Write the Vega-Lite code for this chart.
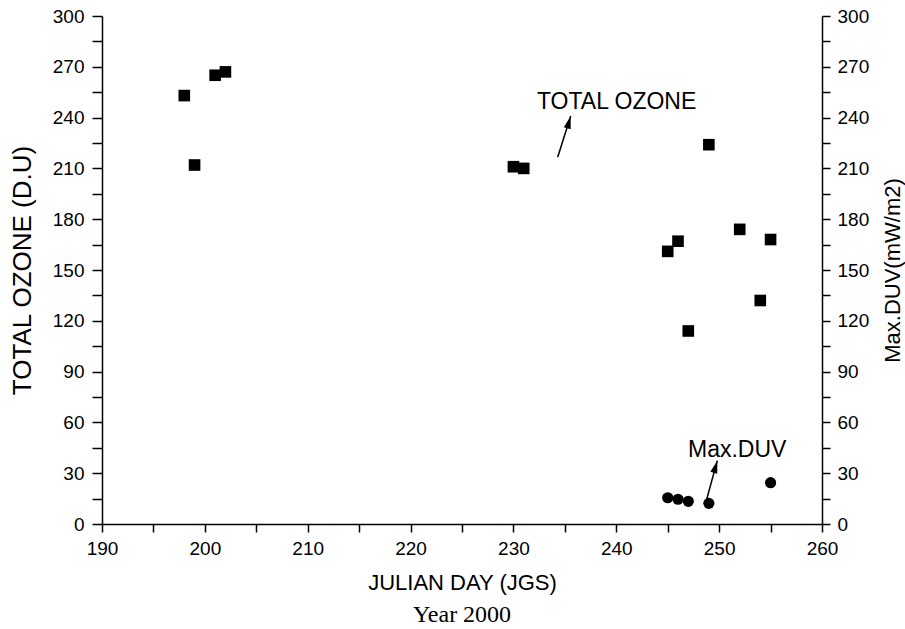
{
  "$schema": "https://vega.github.io/schema/vega-lite/v6.json",
  "width": 720,
  "height": 508,
  "autosize": {"type": "none"},
  "padding": {"left": 102, "top": 16, "right": 83, "bottom": 105},
  "background": "white",
  "config": {
    "font": "Liberation Sans",
    "view": {"stroke": null},
    "axis": {"grid": false, "domainColor": "black", "domainWidth": 1.5, "tickColor": "black", "tickWidth": 1.5, "labelColor": "black", "titleColor": "black", "titleFontWeight": "normal", "labelFlush": false, "labelOverlap": false}
  },
  "title": {"text": "Year 2000", "orient": "bottom", "font": "Liberation Serif", "fontSize": 24, "fontWeight": "normal", "color": "black", "offset": 10},
  "datasets": {
    "ozone": [
      {"day": 198, "ozone": 253}, {"day": 199, "ozone": 212}, {"day": 201, "ozone": 265}, {"day": 202, "ozone": 267},
      {"day": 230, "ozone": 211}, {"day": 231, "ozone": 210}, {"day": 245, "ozone": 161}, {"day": 246, "ozone": 167},
      {"day": 247, "ozone": 114}, {"day": 249, "ozone": 224}, {"day": 252, "ozone": 174}, {"day": 254, "ozone": 132},
      {"day": 255, "ozone": 168}
    ],
    "duv": [
      {"day": 245, "duv": 15.5}, {"day": 246, "duv": 14.6}, {"day": 247, "duv": 13.4}, {"day": 249, "duv": 12.2}, {"day": 255, "duv": 24.4}
    ],
    "arrows": [
      {"day": 234.3, "v": 216.6, "day2": 235.57, "v2": 240.9},
      {"day": 248.79, "v": 14.6, "day2": 249.82, "v2": 37.4}
    ],
    "heads": [
      {"day": 235.57, "v": 240.9},
      {"day": 249.82, "v": 37.4}
    ],
    "labels": [
      {"day": 232.29, "v": 245.1, "label": "TOTAL OZONE"},
      {"day": 246.97, "v": 39.4, "label": "Max.DUV"}
    ]
  },
  "encoding": {
    "x": {
      "field": "day", "type": "quantitative",
      "scale": {"domain": [190, 260], "nice": false, "zero": false},
      "axis": {
        "values": [190,195,200,205,210,215,220,225,230,235,240,245,250,255,260],
        "labelExpr": "datum.value % 10 === 0 ? datum.label : ''",
        "tickSize": 8, "labelPadding": 7, "labelFontSize": 19,
        "title": "JULIAN DAY (JGS)", "titleFontSize": 22, "titlePadding": 14
      }
    }
  },
  "layer": [
    {
      "data": {"name": "ozone"},
      "mark": {"type": "point", "shape": "square", "filled": true, "size": 135, "color": "black", "opacity": 1},
      "encoding": {
        "y": {
          "field": "ozone", "type": "quantitative",
          "scale": {"domain": [0, 300], "nice": false},
          "axis": {
            "orient": "left",
            "values": [0,15,30,45,60,75,90,105,120,135,150,165,180,195,210,225,240,255,270,285,300],
            "labelExpr": "datum.value % 30 === 0 ? datum.label : ''",
            "tickSize": 10, "labelPadding": 8, "labelFontSize": 19,
            "title": "TOTAL OZONE (D.U)", "titleFontSize": 26, "titlePadding": 17
          }
        }
      }
    },
    {
      "data": {"name": "duv"},
      "mark": {"type": "circle", "size": 125, "color": "black", "opacity": 1},
      "encoding": {
        "y": {
          "field": "duv", "type": "quantitative",
          "scale": {"domain": [0, 300], "nice": false},
          "axis": {
            "orient": "right",
            "values": [0,15,30,45,60,75,90,105,120,135,150,165,180,195,210,225,240,255,270,285,300],
            "labelExpr": "datum.value % 30 === 0 ? datum.label : ''",
            "tickSize": 8, "labelPadding": 7, "labelFontSize": 19,
            "title": "Max.DUV(mW/m2)", "titleFontSize": 22, "titlePadding": 14, "titleAngle": 270, "titleBaseline": "top"
          }
        }
      }
    },
    {
      "data": {"name": "arrows"},
      "mark": {"type": "rule", "color": "black", "strokeWidth": 1.5},
      "encoding": {
        "x2": {"field": "day2"},
        "y": {"field": "v", "type": "quantitative", "scale": {"domain": [0, 300], "nice": false}, "axis": null},
        "y2": {"field": "v2"}
      }
    },
    {
      "data": {"name": "heads"},
      "mark": {"type": "point", "shape": "M0,0L0.4,1.4L-0.4,1.4Z", "filled": true, "size": 324, "color": "black", "opacity": 1, "angle": 16, "strokeWidth": 0},
      "encoding": {
        "y": {"field": "v", "type": "quantitative", "scale": {"domain": [0, 300], "nice": false}, "axis": null}
      }
    },
    {
      "data": {"name": "labels"},
      "mark": {"type": "text", "align": "left", "baseline": "alphabetic", "fontSize": 23, "color": "black"},
      "encoding": {
        "y": {"field": "v", "type": "quantitative", "scale": {"domain": [0, 300], "nice": false}, "axis": null},
        "text": {"field": "label"}
      }
    }
  ],
  "resolve": {"scale": {"y": "independent"}}
}
